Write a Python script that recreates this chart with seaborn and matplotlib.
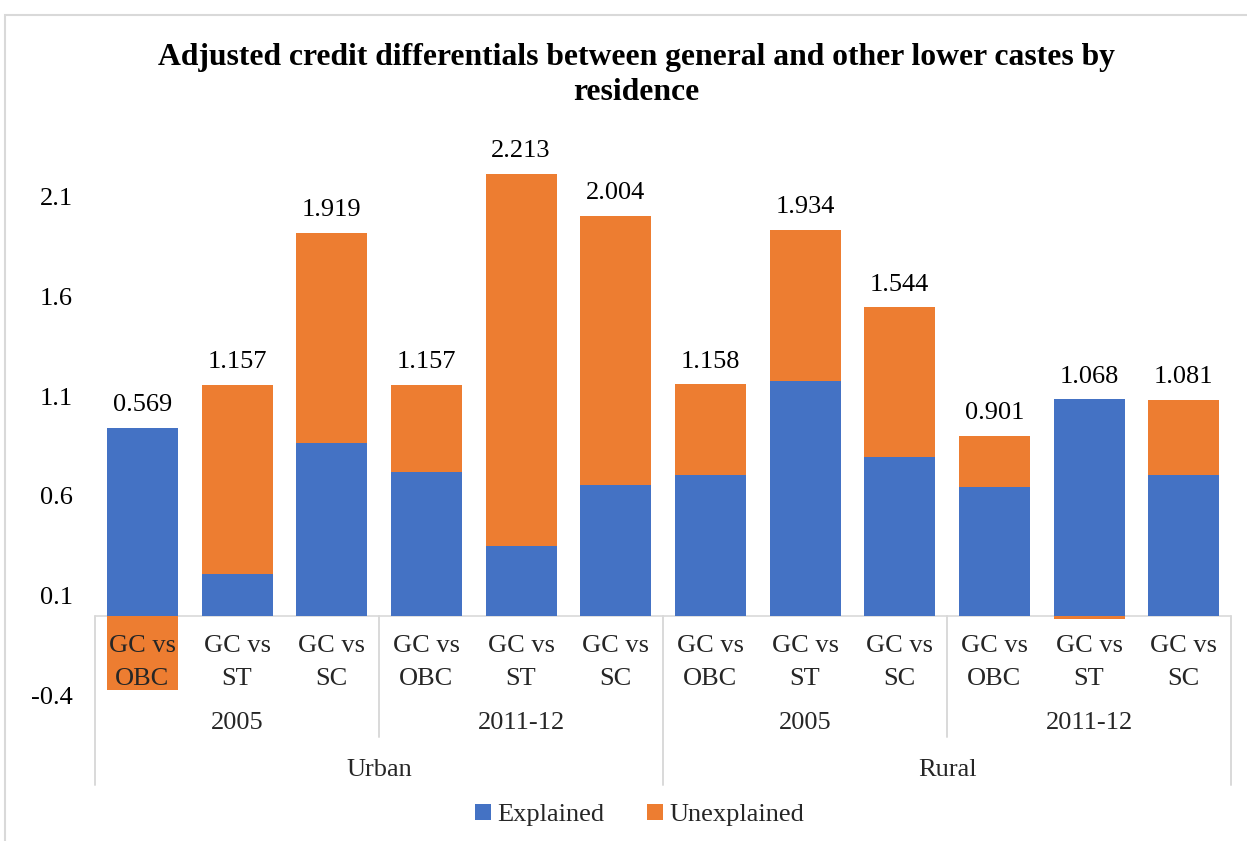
import numpy as np
import pandas as pd
import matplotlib
matplotlib.use("Agg")
import matplotlib.pyplot as plt
from matplotlib.patches import Patch, Rectangle
import seaborn as sns

# ---- data -------------------------------------------------------------
title = ("Adjusted credit differentials between general and other lower castes by\n"
         "residence")
residence = ["Urban", "Rural"]
years = ["2005", "2011-12"]
comparisons = ["GC vs\nOBC", "GC vs\nST", "GC vs\nSC"]
explained = [0.940, 0.208, 0.865, 0.717, 0.348, 0.654,
             0.704, 1.175, 0.794, 0.644, 1.083, 0.706]
unexplained = [-0.371, 0.949, 1.054, 0.440, 1.865, 1.350,
               0.454, 0.759, 0.750, 0.257, -0.015, 0.375]
y_ticks = [-0.4, 0.1, 0.6, 1.1, 1.6, 2.1]
series_names = ["Explained", "Unexplained"]

BLUE = "#4472C4"
ORANGE = "#ED7D31"
GRID = "#D9D9D9"
FS = 19

sns.set_theme(style="white")
plt.rcParams["font.family"] = ["Liberation Serif", "DejaVu Serif"]

exp_arr = np.array(explained)
unexp_arr = np.array(unexplained)
n = len(exp_arr)
slots = list(range(n))
# orange layer: stacked on top of the blue part when positive, below zero when negative
upper = np.where(unexp_arr >= 0, exp_arr + unexp_arr, unexp_arr)
totals = exp_arr + unexp_arr
tops = np.maximum(exp_arr, upper)

df = pd.DataFrame({"slot": slots, "explained": exp_arr, "upper": upper})

fig = plt.figure(figsize=(12.47, 8.41), dpi=100)
ax = fig.add_axes([0.0762, 0.1732, 0.911, 0.6643])

sns.barplot(data=df, x="slot", y="upper", color=ORANGE, saturation=1,
            width=0.75, linewidth=0, errorbar=None, ax=ax)
sns.barplot(data=df, x="slot", y="explained", color=BLUE, saturation=1,
            width=0.75, linewidth=0, errorbar=None, ax=ax)

ax.set_xlim(-0.5, n - 0.5)
ax.set_ylim(-0.4, 2.4)
ax.set_yticks(y_ticks)
ax.set_yticklabels([f"{v:.1f}" for v in y_ticks])
ax.tick_params(axis="y", length=0, pad=15.8, labelsize=FS, labelcolor="#000000")
ax.set_xticks([])
ax.set_xlabel("")
ax.set_ylabel("")
for s in ax.spines.values():
    s.set_visible(False)

# value labels (total differential) above each bar
for i in slots:
    ax.annotate(f"{totals[i]:.3f}", xy=(i, tops[i]), xytext=(0, 12),
                textcoords="offset points", ha="center", va="baseline",
                fontsize=FS, color="#000000")

# multi-level category axis
ax.plot([-0.5, n - 0.5], [0, 0], color=GRID, lw=1.2, clip_on=False, zorder=0.8)
y_short, y_long = -0.609, -0.850
for xb in [-0.5, 2.5, 5.5, 8.5, 11.5]:
    yend = y_long if xb in (-0.5, 5.5, 11.5) else y_short
    ax.plot([xb, xb], [0, yend], color=GRID, lw=1.4, clip_on=False, zorder=3)

for i in slots:
    ax.text(i, -0.235, comparisons[i % 3], ha="center", va="center",
            fontsize=FS, linespacing=1.6, clip_on=False, zorder=4)
for r in range(len(residence)):
    for y in range(len(years)):
        xc = r * 6 + y * 3 + 1
        ax.text(xc, -0.539, years[y], ha="center", va="center",
                fontsize=FS, clip_on=False)
    ax.text(r * 6 + 2.5, -0.772, residence[r], ha="center", va="center",
            fontsize=FS, clip_on=False)

# title
fig.text(0.51, 0.911, title, ha="center", va="center", fontsize=22.8,
         fontweight="bold", linespacing=1.28, color="#000000")

# legend
handles = [Patch(facecolor=BLUE, edgecolor="none"),
           Patch(facecolor=ORANGE, edgecolor="none")]
fig.legend(handles, series_names, loc="center", bbox_to_anchor=(0.513, 0.031),
           ncol=2, frameon=False, fontsize=FS, handlelength=0.6,
           handleheight=0.6, handletextpad=0.25, columnspacing=1.6)

# chart area border
fig.add_artist(Rectangle((5 / 1247, -0.05), 1.0, 1 - 15 / 841 + 0.05,
                         transform=fig.transFigure, fill=False,
                         edgecolor=GRID, lw=1.5))

fig.savefig("out.png", dpi=100)
